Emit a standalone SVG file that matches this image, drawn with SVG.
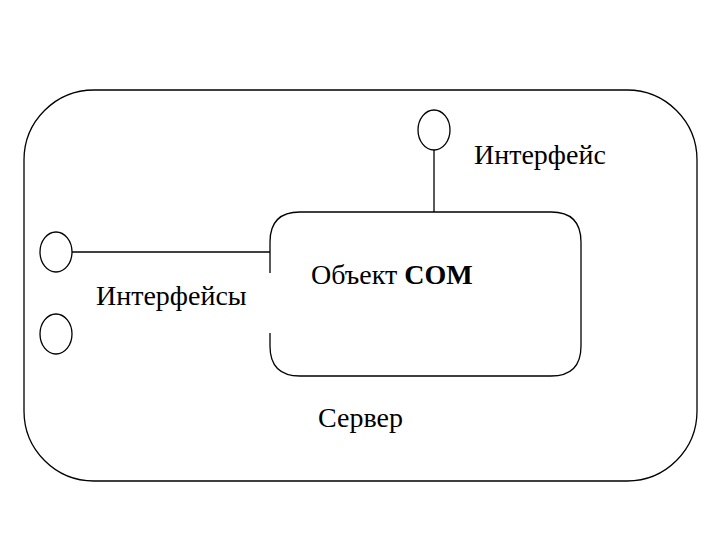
<svg xmlns="http://www.w3.org/2000/svg" width="720" height="540" viewBox="0 0 720 540">
<style>
.s{fill:none;stroke:#000;stroke-width:1.3}
.t{font-family:"Liberation Serif",serif;font-size:28px;fill:#000}
</style>
<rect width="720" height="540" fill="#fff"/>
<g id="server"><rect class="s" x="24" y="90" width="673" height="391" rx="70" ry="70"/>
<text class="t" x="318" y="427">Сервер</text></g>
<g id="com"><path class="s" d="M270,273 V242 Q270,212 300,212 H551 Q581,212 581,242 V346 Q581,376 551,376 H300 Q270,376 270,346 V333"/>
<text class="t" x="311" y="284">Объект <tspan font-weight="bold">COM</tspan></text></g>
<g id="if-top"><ellipse class="s" cx="434" cy="130" rx="16" ry="20"/>
<text class="t" x="474" y="164">Интерфейс</text></g>
<g id="if-left"><ellipse class="s" cx="56" cy="252" rx="16" ry="20"/><ellipse class="s" cx="56" cy="334" rx="16" ry="20"/>
<text class="t" x="96" y="305">Интерфейсы</text></g>
<g id="connectors"><line class="s" x1="72" y1="252" x2="270" y2="252"/><line class="s" x1="434" y1="150" x2="434" y2="212"/></g>
</svg>
